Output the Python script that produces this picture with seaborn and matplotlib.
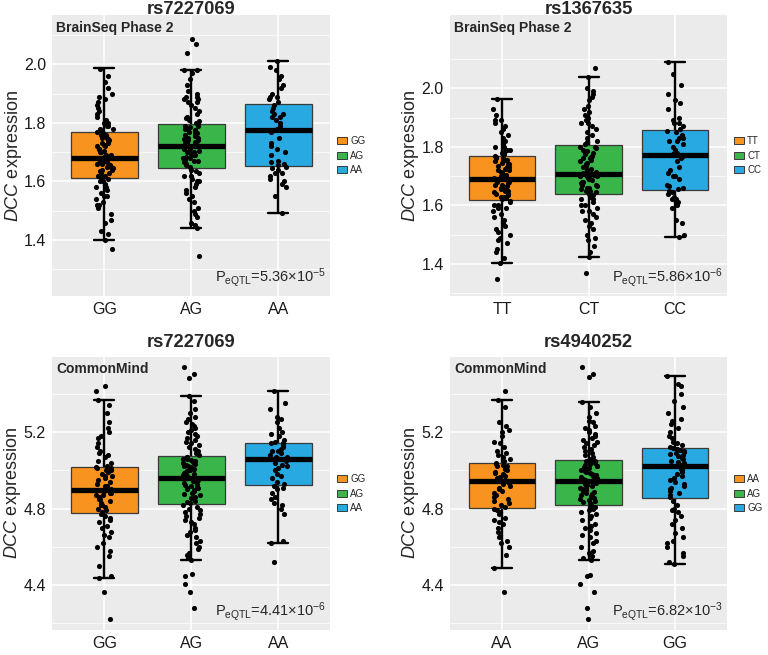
import numpy as np
import pandas as pd
import matplotlib
matplotlib.use("Agg")
import matplotlib.pyplot as plt
from matplotlib.patches import Patch
import seaborn as sns

# ---------------- data ----------------
box_colors = ["#F7931E", "#39B54A", "#29A9E1"]

# Panel 1: BrainSeq Phase 2, rs7227069
p1_genos = ["GG", "AG", "AA"]
p1_q1 = [1.613, 1.645, 1.654]
p1_med = [1.680, 1.721, 1.776]
p1_q3 = [1.768, 1.797, 1.866]
p1_wlo = [1.402, 1.442, 1.493]
p1_whi = [1.986, 1.981, 2.011]
p1_GG = [1.40, 1.42, 1.43, 1.46, 1.47, 1.49, 1.51, 1.52, 1.52, 1.53, 1.54, 1.55, 1.55, 1.56, 1.57, 1.58,
         1.58, 1.59, 1.60, 1.60, 1.61, 1.61, 1.615, 1.62, 1.62, 1.63, 1.63, 1.635, 1.64, 1.64, 1.645,
         1.65, 1.65, 1.655, 1.66, 1.66, 1.665, 1.67, 1.67, 1.67, 1.675, 1.675, 1.68, 1.68, 1.685, 1.69,
         1.69, 1.70, 1.70, 1.705, 1.71, 1.71, 1.72, 1.72, 1.725, 1.73, 1.73, 1.74, 1.74, 1.745, 1.75,
         1.75, 1.755, 1.76, 1.76, 1.765, 1.77, 1.775, 1.78, 1.78, 1.79, 1.79, 1.80, 1.80, 1.81, 1.82,
         1.83, 1.84, 1.85, 1.86, 1.87, 1.88, 1.89, 1.90, 1.92, 1.94, 1.96, 1.985, 1.37]
p1_AG = [1.442, 1.45, 1.46, 1.48, 1.49, 1.50, 1.51, 1.53, 1.54, 1.55, 1.56, 1.57, 1.58, 1.59, 1.60, 1.60,
         1.61, 1.62, 1.62, 1.63, 1.635, 1.64, 1.65, 1.655, 1.66, 1.665, 1.67, 1.67, 1.675, 1.68, 1.68,
         1.685, 1.69, 1.69, 1.695, 1.70, 1.70, 1.705, 1.71, 1.71, 1.715, 1.715, 1.72, 1.72, 1.725, 1.73,
         1.73, 1.735, 1.74, 1.74, 1.745, 1.75, 1.75, 1.755, 1.76, 1.76, 1.765, 1.77, 1.77, 1.775, 1.78,
         1.78, 1.785, 1.79, 1.79, 1.795, 1.80, 1.805, 1.81, 1.815, 1.82, 1.83, 1.84, 1.85, 1.86, 1.87,
         1.87, 1.88, 1.88, 1.89, 1.89, 1.90, 1.91, 1.93, 1.95, 1.97, 1.98, 1.981, 2.085, 2.07, 2.038, 1.345]
p1_AA = [1.493, 1.55, 1.58, 1.59, 1.60, 1.61, 1.62, 1.63, 1.63, 1.64, 1.645, 1.65, 1.655, 1.66, 1.665,
         1.67, 1.69, 1.70, 1.71, 1.72, 1.73, 1.75, 1.77, 1.775, 1.78, 1.78, 1.79, 1.80, 1.81, 1.82, 1.82,
         1.83, 1.83, 1.84, 1.85, 1.86, 1.87, 1.88, 1.89, 1.89, 1.90, 1.92, 1.93, 1.95, 1.96, 1.98, 1.99, 2.01]

# Panel 2: BrainSeq Phase 2, rs1367635
p2_genos = ["TT", "CT", "CC"]
p2_q1 = [1.619, 1.638, 1.653]
p2_med = [1.689, 1.707, 1.771]
p2_q3 = [1.769, 1.805, 1.858]
p2_wlo = [1.402, 1.423, 1.491]
p2_whi = [1.964, 2.038, 2.088]
p2_TT = [1.402, 1.42, 1.44, 1.45, 1.47, 1.48, 1.49, 1.50, 1.51, 1.52, 1.53, 1.54, 1.55, 1.56, 1.57, 1.58,
         1.59, 1.59, 1.60, 1.60, 1.61, 1.615, 1.62, 1.625, 1.63, 1.63, 1.635, 1.64, 1.64, 1.645, 1.65,
         1.65, 1.655, 1.66, 1.66, 1.665, 1.67, 1.67, 1.675, 1.68, 1.68, 1.685, 1.685, 1.69, 1.695, 1.70,
         1.70, 1.705, 1.71, 1.71, 1.715, 1.72, 1.72, 1.725, 1.73, 1.73, 1.735, 1.74, 1.74, 1.745, 1.75,
         1.75, 1.755, 1.76, 1.76, 1.765, 1.77, 1.775, 1.78, 1.785, 1.79, 1.79, 1.80, 1.80, 1.81, 1.82,
         1.82, 1.83, 1.84, 1.85, 1.86, 1.87, 1.88, 1.89, 1.89, 1.91, 1.93, 1.964, 1.348]
p2_CT = [1.423, 1.44, 1.46, 1.48, 1.49, 1.50, 1.52, 1.53, 1.54, 1.55, 1.56, 1.57, 1.58, 1.58, 1.59, 1.60,
         1.60, 1.61, 1.62, 1.62, 1.63, 1.635, 1.64, 1.645, 1.65, 1.65, 1.655, 1.66, 1.66, 1.665, 1.67,
         1.67, 1.675, 1.68, 1.68, 1.685, 1.69, 1.69, 1.695, 1.70, 1.70, 1.70, 1.705, 1.705, 1.71, 1.715,
         1.72, 1.725, 1.73, 1.735, 1.74, 1.745, 1.75, 1.755, 1.76, 1.76, 1.765, 1.77, 1.775, 1.78, 1.78,
         1.785, 1.79, 1.795, 1.80, 1.80, 1.81, 1.815, 1.82, 1.83, 1.84, 1.85, 1.86, 1.87, 1.88, 1.88,
         1.89, 1.90, 1.91, 1.92, 1.93, 1.94, 1.96, 1.97, 1.98, 1.99, 2.00, 2.038, 2.07, 1.37]
p2_CC = [1.491, 1.50, 1.54, 1.55, 1.59, 1.60, 1.61, 1.62, 1.62, 1.63, 1.64, 1.645, 1.65, 1.655, 1.66,
         1.665, 1.67, 1.69, 1.70, 1.70, 1.71, 1.72, 1.73, 1.75, 1.76, 1.77, 1.775, 1.78, 1.78, 1.79, 1.80,
         1.81, 1.82, 1.82, 1.83, 1.83, 1.84, 1.85, 1.855, 1.86, 1.87, 1.88, 1.88, 1.89, 1.90, 1.93, 1.95,
         1.96, 1.98, 2.01, 2.05, 2.088]

# Panel 3: CommonMind, rs7227069
p3_genos = ["GG", "AG", "AA"]
p3_q1 = [4.778, 4.825, 4.922]
p3_med = [4.896, 4.960, 5.061]
p3_q3 = [5.016, 5.075, 5.143]
p3_wlo = [4.436, 4.532, 4.622]
p3_whi = [5.367, 5.387, 5.413]
p3_GG = [4.436, 4.45, 4.50, 4.55, 4.58, 4.60, 4.62, 4.65, 4.66, 4.68, 4.70, 4.71, 4.73, 4.74, 4.75, 4.76,
         4.77, 4.78, 4.79, 4.80, 4.81, 4.82, 4.82, 4.83, 4.84, 4.85, 4.85, 4.86, 4.87, 4.87, 4.88, 4.88,
         4.89, 4.89, 4.90, 4.91, 4.92, 4.92, 4.93, 4.94, 4.95, 4.96, 4.97, 4.97, 4.98, 4.99, 5.00, 5.00,
         5.01, 5.01, 5.015, 5.02, 5.04, 5.05, 5.07, 5.08, 5.09, 5.10, 5.12, 5.14, 5.17, 5.18, 5.20, 5.22,
         5.25, 5.30, 5.34, 5.367, 5.438, 5.412, 4.362, 4.223]
p3_AG = [4.532, 4.54, 4.56, 4.57, 4.59, 4.60, 4.62, 4.63, 4.65, 4.66, 4.68, 4.69, 4.70, 4.72, 4.73, 4.74,
         4.75, 4.76, 4.77, 4.78, 4.79, 4.80, 4.81, 4.82, 4.83, 4.835, 4.84, 4.85, 4.855, 4.86, 4.87, 4.875,
         4.88, 4.89, 4.895, 4.90, 4.905, 4.91, 4.915, 4.92, 4.925, 4.93, 4.935, 4.94, 4.945, 4.95, 4.955,
         4.96, 4.965, 4.97, 4.975, 4.98, 4.985, 4.99, 4.995, 5.00, 5.005, 5.01, 5.015, 5.02, 5.025, 5.03,
         5.035, 5.04, 5.045, 5.05, 5.055, 5.06, 5.06, 5.065, 5.07, 5.07, 5.08, 5.09, 5.10, 5.11, 5.12, 5.13,
         5.14, 5.15, 5.16, 5.17, 5.18, 5.19, 5.20, 5.21, 5.22, 5.23, 5.24, 5.25, 5.27, 5.28, 5.30, 5.32,
         5.36, 5.387, 5.542, 5.502, 5.481, 4.46, 4.449, 4.405, 4.362, 4.279]
p3_AA = [4.622, 4.63, 4.77, 4.80, 4.82, 4.83, 4.85, 4.86, 4.88, 4.90, 4.91, 4.92, 4.93, 4.94, 4.96, 4.97,
         4.98, 5.00, 5.01, 5.02, 5.03, 5.04, 5.05, 5.06, 5.065, 5.07, 5.07, 5.08, 5.09, 5.10, 5.10, 5.11,
         5.12, 5.13, 5.14, 5.14, 5.15, 5.16, 5.18, 5.19, 5.20, 5.22, 5.25, 5.27, 5.28, 5.32, 5.35, 5.413,
         4.521]

# Panel 4: CommonMind, rs4940252
p4_genos = ["AA", "AG", "GG"]
p4_q1 = [4.801, 4.817, 4.853]
p4_med = [4.943, 4.943, 5.021]
p4_q3 = [5.040, 5.056, 5.117]
p4_wlo = [4.489, 4.532, 4.513]
p4_whi = [5.365, 5.356, 5.490]
p4_AA = [4.489, 4.56, 4.60, 4.62, 4.63, 4.65, 4.66, 4.68, 4.70, 4.72, 4.73, 4.74, 4.75, 4.77, 4.78, 4.79,
         4.80, 4.81, 4.82, 4.83, 4.84, 4.85, 4.86, 4.87, 4.88, 4.89, 4.90, 4.91, 4.92, 4.93, 4.935, 4.94,
         4.945, 4.95, 4.96, 4.965, 4.97, 4.98, 4.985, 4.99, 5.00, 5.005, 5.01, 5.02, 5.025, 5.03, 5.035,
         5.04, 5.05, 5.06, 5.07, 5.08, 5.09, 5.10, 5.12, 5.14, 5.15, 5.18, 5.20, 5.21, 5.23, 5.25, 5.33,
         5.365, 5.412, 4.365]
p4_AG = [4.532, 4.54, 4.55, 4.57, 4.58, 4.60, 4.62, 4.63, 4.65, 4.66, 4.67, 4.69, 4.70, 4.71, 4.72, 4.74,
         4.75, 4.76, 4.77, 4.78, 4.79, 4.80, 4.805, 4.81, 4.82, 4.825, 4.83, 4.835, 4.84, 4.845, 4.85,
         4.855, 4.86, 4.865, 4.87, 4.875, 4.88, 4.885, 4.89, 4.895, 4.90, 4.905, 4.91, 4.92, 4.925, 4.93,
         4.935, 4.94, 4.945, 4.95, 4.955, 4.96, 4.965, 4.97, 4.975, 4.98, 4.985, 4.99, 4.995, 5.00, 5.005,
         5.01, 5.015, 5.02, 5.025, 5.03, 5.035, 5.04, 5.045, 5.05, 5.05, 5.055, 5.06, 5.07, 5.08, 5.09,
         5.10, 5.11, 5.12, 5.13, 5.14, 5.15, 5.16, 5.17, 5.18, 5.19, 5.20, 5.21, 5.22, 5.23, 5.25, 5.26,
         5.28, 5.30, 5.33, 5.356, 5.542, 5.502, 5.485, 4.454, 4.449, 4.405, 4.362, 4.279, 4.223]
p4_GG = [4.513, 4.52, 4.55, 4.57, 4.60, 4.62, 4.63, 4.65, 4.67, 4.70, 4.72, 4.74, 4.76, 4.78, 4.79, 4.80,
         4.82, 4.84, 4.86, 4.87, 4.88, 4.89, 4.90, 4.91, 4.92, 4.93, 4.94, 4.95, 4.96, 4.97, 4.98, 4.99,
         5.00, 5.005, 5.01, 5.02, 5.025, 5.03, 5.04, 5.045, 5.05, 5.06, 5.065, 5.07, 5.075, 5.08, 5.085,
         5.09, 5.095, 5.10, 5.105, 5.11, 5.11, 5.115, 5.12, 5.13, 5.14, 5.15, 5.17, 5.18, 5.20, 5.22, 5.24,
         5.26, 5.27, 5.30, 5.33, 5.36, 5.40, 5.44, 5.45, 5.49]

panels = [
    dict(title="rs7227069", cohort="BrainSeq Phase 2", genos=p1_genos, groups=[p1_GG, p1_AG, p1_AA],
         q1=p1_q1, med=p1_med, q3=p1_q3, wlo=p1_wlo, whi=p1_whi,
         pval=r"P$_{\mathrm{eQTL}}$=5.36×10$^{\mathrm{-5}}$",
         yticks=[1.4, 1.6, 1.8, 2.0], minor=[1.3, 1.5, 1.7, 1.9, 2.1], ylim=(1.209, 2.168)),
    dict(title="rs1367635", cohort="BrainSeq Phase 2", genos=p2_genos, groups=[p2_TT, p2_CT, p2_CC],
         q1=p2_q1, med=p2_med, q3=p2_q3, wlo=p2_wlo, whi=p2_whi,
         pval=r"P$_{\mathrm{eQTL}}$=5.86×10$^{\mathrm{-6}}$",
         yticks=[1.4, 1.6, 1.8, 2.0], minor=[1.3, 1.5, 1.7, 1.9, 2.1], ylim=(1.29, 2.25)),
    dict(title="rs7227069", cohort="CommonMind", genos=p3_genos, groups=[p3_GG, p3_AG, p3_AA],
         q1=p3_q1, med=p3_med, q3=p3_q3, wlo=p3_wlo, whi=p3_whi,
         pval=r"P$_{\mathrm{eQTL}}$=4.41×10$^{\mathrm{-6}}$",
         yticks=[4.4, 4.8, 5.2], minor=[4.2, 4.6, 5.0, 5.4], ylim=(4.165, 5.592)),
    dict(title="rs4940252", cohort="CommonMind", genos=p4_genos, groups=[p4_AA, p4_AG, p4_GG],
         q1=p4_q1, med=p4_med, q3=p4_q3, wlo=p4_wlo, whi=p4_whi,
         pval=r"P$_{\mathrm{eQTL}}$=6.82×10$^{\mathrm{-3}}$",
         yticks=[4.4, 4.8, 5.2], minor=[4.2, 4.6, 5.0, 5.4], ylim=(4.165, 5.592)),
]

# ---------------- style ----------------
sns.set_theme(style="darkgrid", rc={"axes.facecolor": "#EBEBEB", "grid.color": "white"})
plt.rcParams["font.family"] = ["Liberation Sans", "DejaVu Sans"]
plt.rcParams["mathtext.fontset"] = "custom"
plt.rcParams["mathtext.rm"] = "Liberation Sans"
plt.rcParams["mathtext.it"] = "Liberation Sans:italic"
plt.rcParams["mathtext.bf"] = "Liberation Sans:bold"

fig = plt.figure(figsize=(7.68, 6.55), dpi=100)
axes_rects = [
    [0.068, 0.548, 0.362, 0.429],
    [0.586, 0.548, 0.3607, 0.429],
    [0.068, 0.038, 0.362, 0.417],
    [0.586, 0.038, 0.3607, 0.417],
]
title_pads = [1.0, 1.0, 7, 7]

np.random.seed(3)
for i, (p, rect) in enumerate(zip(panels, axes_rects)):
    ax = fig.add_axes(rect)

    stats = [dict(q1=a, med=b, q3=c, whislo=d, whishi=e, fliers=[])
             for a, b, c, d, e in zip(p["q1"], p["med"], p["q3"], p["wlo"], p["whi"])]
    res = ax.bxp(stats, positions=[0, 1, 2], widths=0.77, capwidths=0.23,
                 patch_artist=True, showfliers=False, manage_ticks=False,
                 boxprops=dict(edgecolor="#3a3a3a", linewidth=0.9),
                 medianprops=dict(color="black", linewidth=3.8, solid_capstyle="butt"),
                 whiskerprops=dict(color="black", linewidth=1.7),
                 capprops=dict(color="black", linewidth=1.7))
    for patch, c in zip(res["boxes"], box_colors):
        patch.set_facecolor(c)
        patch.set_zorder(3)
    for ln in res["whiskers"] + res["caps"]:
        ln.set_zorder(2)
    for ln in res["medians"]:
        ln.set_zorder(4)

    df = pd.DataFrame({
        "geno": sum([[g] * len(v) for g, v in zip(p["genos"], p["groups"])], []),
        "expr": sum(p["groups"], []),
    })
    sns.stripplot(data=df, x="geno", y="expr", order=p["genos"], color="black",
                  size=3.7, jitter=0.1, linewidth=0, ax=ax, zorder=5)

    ax.set_xlim(-0.6, 2.6)
    ax.set_ylim(*p["ylim"])
    ax.set_xticks([0, 1, 2])
    ax.set_xticklabels(p["genos"])
    ax.set_yticks(p["yticks"])
    ax.set_yticklabels([f"{t:.1f}" for t in p["yticks"]])
    ax.set_yticks(p["minor"], minor=True)
    ax.grid(which="major", color="white", linewidth=1.1)
    ax.grid(which="minor", axis="y", color="white", linewidth=0.5)
    ax.tick_params(which="major", length=3, width=0.8, color="#333333",
                   labelsize=11.5, labelcolor="#1a1a1a", pad=1.5)
    ax.tick_params(which="minor", length=0)
    for s in ax.spines.values():
        s.set_visible(False)

    ax.set_xlabel("")
    ax.set_ylabel(r"$\mathit{DCC}$ expression", fontsize=13, labelpad=0)
    ax.set_title(p["title"], fontsize=13.2, fontweight="bold", pad=title_pads[i])

    ax.text(0.015, 0.955, p["cohort"], transform=ax.transAxes, fontsize=10,
            fontweight="bold", ha="left", va="center")
    ax.text(0.985, 0.025, p["pval"], transform=ax.transAxes, fontsize=10.5,
            ha="right", va="bottom")

    handles = [Patch(facecolor=c, edgecolor="#3a3a3a", linewidth=0.7) for c in box_colors]
    ax.legend(handles, p["genos"], loc="center left", bbox_to_anchor=(1.025, 0.5),
              frameon=False, fontsize=7, handlelength=1.0, handleheight=0.75,
              labelspacing=0.45, handletextpad=0.35, borderpad=0, borderaxespad=0)

fig.savefig("out.png", dpi=100)
